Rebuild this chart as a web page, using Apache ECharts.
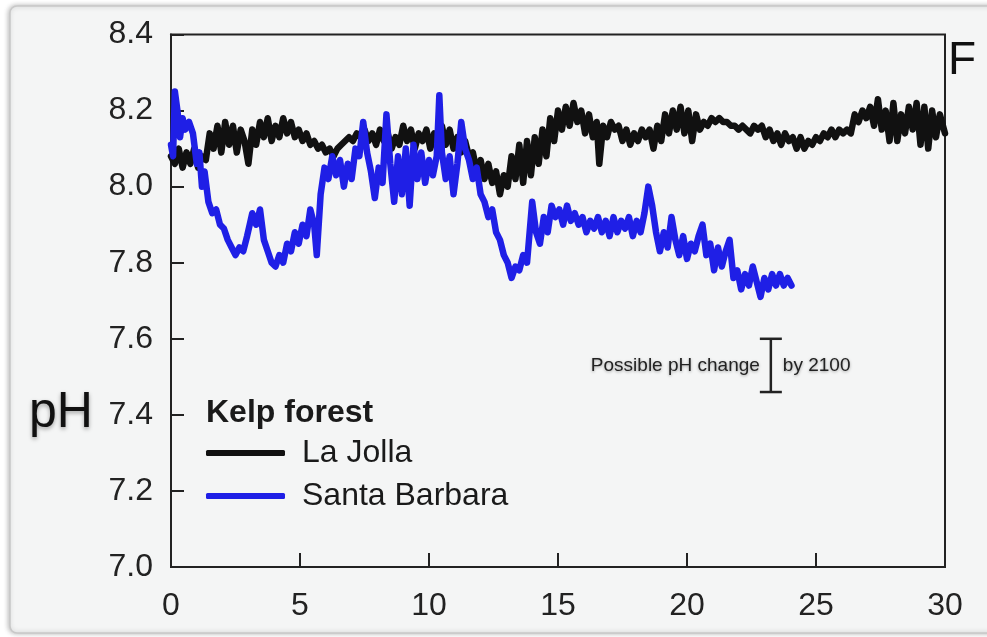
<!DOCTYPE html>
<html>
<head>
<meta charset="utf-8">
<script src="https://cdn.jsdelivr.net/npm/echarts@6/dist/echarts.min.js"></script>
<style>
html,body{margin:0;padding:0;background:#ffffff;}
#chart{width:987px;height:637px;}
</style>
</head>
<body>
<div id="chart"></div>
<script>
// ---- data ----
var xTicks = [0, 5, 10, 15, 20, 25, 30];
var yTicks = [7.0, 7.2, 7.4, 7.6, 7.8, 8.0, 8.2, 8.4];

var laJollaT = [0,0.15,0.3,0.45,0.6,0.75,0.9,1.05,1.2,1.35,1.5,1.65,1.8,1.95,2.1,2.25,2.4,2.55,2.7,2.85,3.0,3.15,3.3,3.45,3.6,3.75,3.9,4.05,4.2,4.35,4.5,4.65,4.8,4.95,5.1,5.25,5.4,5.55,5.7,5.85,6.0,6.15,6.3,6.45,6.6,6.75,6.9,7.05,7.2,7.35,7.5,7.65,7.8,7.95,8.1,8.25,8.4,8.55,8.7,8.85,9.0,9.15,9.3,9.45,9.6,9.75,9.9,10.05,10.2,10.35,10.5,10.65,10.8,10.95,11.1,11.25,11.4,11.55,11.7,11.85,12.0,12.15,12.3,12.45,12.6,12.75,12.9,13.05,13.2,13.35,13.5,13.65,13.8,13.95,14.1,14.25,14.4,14.55,14.7,14.85,15.0,15.15,15.3,15.45,15.6,15.75,15.9,16.05,16.2,16.35,16.5,16.6,16.75,16.9,17.05,17.2,17.35,17.5,17.65,17.8,17.95,18.1,18.25,18.4,18.55,18.7,18.85,19.0,19.15,19.3,19.45,19.6,19.75,19.9,20.05,20.2,20.35,20.5,20.65,20.8,20.95,21.1,21.25,21.4,21.55,21.7,21.85,22.0,22.15,22.3,22.45,22.6,22.75,22.9,23.05,23.2,23.35,23.5,23.65,23.8,23.95,24.1,24.25,24.4,24.55,24.7,24.85,25.0,25.15,25.3,25.45,25.6,25.75,25.9,26.05,26.2,26.35,26.5,26.65,26.8,26.95,27.1,27.25,27.4,27.55,27.7,27.85,28.0,28.15,28.3,28.45,28.6,28.75,28.9,29.05,29.2,29.35,29.5,29.65,29.8,30.0];
var laJollaPH = [8.08,8.06,8.10,8.05,8.09,8.06,8.10,8.05,8.08,8.07,8.14,8.10,8.16,8.09,8.17,8.11,8.16,8.09,8.15,8.12,8.06,8.15,8.11,8.17,8.13,8.18,8.12,8.16,8.13,8.18,8.14,8.17,8.13,8.15,8.12,8.14,8.11,8.12,8.10,8.11,8.09,8.10,8.08,8.10,8.11,8.12,8.13,8.12,8.14,8.13,8.15,8.12,8.14,8.11,8.15,8.12,8.14,8.10,8.13,8.11,8.16,8.12,8.15,8.10,8.14,8.12,8.15,8.10,8.14,8.12,8.16,8.11,8.15,8.10,8.13,8.09,8.12,8.08,8.09,8.04,8.07,8.02,8.06,8.01,8.04,7.98,8.03,8.00,8.08,8.02,8.11,8.01,8.12,8.03,8.13,8.06,8.15,8.08,8.18,8.12,8.20,8.15,8.21,8.16,8.22,8.17,8.20,8.14,8.19,8.13,8.17,8.06,8.16,8.13,8.17,8.15,8.16,8.12,8.15,8.11,8.14,8.12,8.15,8.13,8.15,8.10,8.16,8.12,8.19,8.14,8.20,8.15,8.21,8.14,8.20,8.12,8.19,8.15,8.17,8.16,8.18,8.17,8.18,8.17,8.17,8.16,8.16,8.15,8.16,8.15,8.14,8.16,8.15,8.16,8.13,8.15,8.12,8.14,8.11,8.14,8.12,8.13,8.10,8.13,8.10,8.12,8.11,8.13,8.12,8.14,8.13,8.15,8.13,8.15,8.14,8.15,8.14,8.19,8.17,8.20,8.18,8.21,8.16,8.23,8.15,8.20,8.12,8.22,8.12,8.19,8.14,8.21,8.15,8.22,8.11,8.21,8.10,8.20,8.13,8.19,8.14];

var santaBarbaraT = [0,0.08,0.15,0.25,0.35,0.45,0.55,0.7,0.85,1.0,1.1,1.2,1.3,1.45,1.6,1.75,1.9,2.05,2.2,2.35,2.5,2.65,2.8,2.95,3.05,3.15,3.3,3.45,3.6,3.75,3.9,4.05,4.2,4.35,4.5,4.65,4.8,4.95,5.1,5.25,5.4,5.55,5.65,5.8,5.95,6.1,6.25,6.4,6.55,6.7,6.85,7.0,7.15,7.3,7.45,7.6,7.75,7.9,8.05,8.2,8.35,8.5,8.65,8.8,8.95,9.1,9.25,9.4,9.55,9.7,9.85,10.0,10.15,10.3,10.4,10.5,10.65,10.8,10.95,11.1,11.25,11.4,11.55,11.7,11.85,12.0,12.15,12.3,12.45,12.6,12.75,12.9,13.05,13.2,13.35,13.5,13.65,13.8,14.0,14.15,14.3,14.45,14.6,14.75,14.9,15.05,15.2,15.35,15.5,15.65,15.8,15.95,16.1,16.25,16.4,16.55,16.7,16.85,17.0,17.15,17.3,17.45,17.6,17.75,17.9,18.05,18.2,18.35,18.5,18.65,18.8,18.95,19.1,19.25,19.4,19.55,19.7,19.85,20.0,20.15,20.3,20.45,20.6,20.75,20.9,21.05,21.2,21.35,21.5,21.65,21.8,21.95,22.1,22.25,22.4,22.55,22.7,22.85,23.0,23.15,23.3,23.45,23.6,23.75,23.9,24.05];
var santaBarbaraPH = [8.11,8.08,8.25,8.20,8.13,8.18,8.15,8.17,8.14,8.06,8.09,8.00,8.04,7.96,7.93,7.94,7.90,7.89,7.86,7.84,7.82,7.84,7.83,7.87,7.90,7.93,7.90,7.94,7.86,7.83,7.80,7.79,7.82,7.80,7.85,7.83,7.88,7.85,7.90,7.87,7.94,7.90,7.82,7.98,8.05,8.02,8.08,8.03,8.07,8.00,8.06,8.02,8.10,8.08,8.17,8.09,8.04,7.97,8.05,8.01,8.19,8.06,7.96,8.08,7.98,8.10,7.95,8.11,8.02,8.09,8.01,8.07,8.03,8.08,8.24,8.09,8.02,8.08,7.98,8.06,8.17,8.10,8.07,8.02,8.05,7.98,7.96,7.92,7.94,7.88,7.86,7.82,7.80,7.76,7.79,7.78,7.82,7.80,7.96,7.88,7.85,7.92,7.88,7.95,7.92,7.94,7.90,7.95,7.91,7.93,7.90,7.92,7.88,7.91,7.89,7.92,7.88,7.91,7.87,7.92,7.88,7.91,7.89,7.92,7.87,7.91,7.88,7.93,8.00,7.95,7.88,7.83,7.88,7.84,7.92,7.86,7.82,7.87,7.81,7.85,7.83,7.87,7.90,7.82,7.85,7.78,7.84,7.79,7.83,7.86,7.76,7.78,7.73,7.77,7.74,7.79,7.75,7.71,7.76,7.73,7.77,7.74,7.77,7.74,7.76,7.74];

// possible pH change by 2100 (I-beam): x position, top and bottom pH
var changeBarT = [23.25];
var changeBarTop = [7.60];
var changeBarBottom = [7.46];

var seriesNames = ['La Jolla', 'Santa Barbara'];
var legendTitle = 'Kelp forest';

function zip(a, b) { return a.map(function (v, i) { return [v, b[i]]; }); }

var chart = echarts.init(document.getElementById('chart'), null, { renderer: 'canvas' });
var FONT = '"Liberation Sans", Arial, Helvetica, sans-serif';

var option = {
  backgroundColor: '#ffffff',
  animation: false,
  textStyle: { fontFamily: FONT },
  graphic: [
    {
      type: 'rect', z: -10, silent: true,
      shape: { x: 10, y: 6, width: 990, height: 627, r: 7 },
      style: { fill: '#f4f5f5', stroke: '#c8c8c8', lineWidth: 1.5,
               shadowColor: 'rgba(0,0,0,0.25)', shadowBlur: 5, shadowOffsetX: -1, shadowOffsetY: 0 }
    },
    {
      type: 'text', left: 29, top: 388, z: 10, silent: true,
      style: { text: 'pH', font: '50px ' + FONT, fill: '#111',
               textShadowColor: 'rgba(0,0,0,0.35)', textShadowBlur: 4, textShadowOffsetY: 2 }
    },
    {
      type: 'text', left: 948, top: 38, z: 10, silent: true,
      style: { text: 'F', font: '46px ' + FONT, fill: '#111' }
    },
    {
      type: 'text', left: 206, top: 397, z: 10, silent: true,
      style: { text: legendTitle, font: 'bold 32px ' + FONT, fill: '#1a1a1a' }
    }
  ],
  grid: {
    left: 171, right: 42, top: 34.5, bottom: 70,
    show: true, borderColor: '#222', borderWidth: 2, backgroundColor: 'transparent',
    outerBoundsMode: 'none'
  },
  legend: {
    data: seriesNames,
    orient: 'vertical',
    left: 201, top: 431,
    itemWidth: 79, itemHeight: 6,
    itemGap: 9,
    icon: 'roundRect',
    selectedMode: false,
    textStyle: { fontSize: 32, color: '#1a1a1a', lineHeight: 34, padding: [0, 0, 0, 12], fontFamily: FONT }
  },
  xAxis: {
    type: 'value', min: 0, max: 30, interval: 5,
    axisLine: { show: true, lineStyle: { color: '#222', width: 2 } },
    axisTick: { show: true, inside: true, length: 14, lineStyle: { color: '#222', width: 2 } },
    axisLabel: { fontSize: 32, color: '#222', margin: 23, fontFamily: FONT,
                 formatter: function (v) { return xTicks.indexOf(v) >= 0 ? String(v) : ''; } },
    splitLine: { show: false }
  },
  yAxis: {
    type: 'value', min: 7.0, max: 8.4, interval: 0.2,
    axisLine: { show: true, lineStyle: { color: '#222', width: 2 } },
    axisTick: { show: true, inside: true, length: 13, lineStyle: { color: '#222', width: 2 } },
    axisLabel: { fontSize: 32, color: '#222', margin: 18, fontFamily: FONT,
                 formatter: function (v) { return v.toFixed(1); } },
    splitLine: { show: false }
  },
  series: [
    {
      name: seriesNames[0], type: 'line', data: zip(laJollaT, laJollaPH),
      showSymbol: false, symbol: 'none', smooth: false,
      lineStyle: { color: '#111111', width: 6.5, join: 'round', cap: 'round' },
      itemStyle: { color: '#111111' }, z: 3
    },
    {
      name: seriesNames[1], type: 'line', data: zip(santaBarbaraT, santaBarbaraPH),
      showSymbol: false, symbol: 'none', smooth: false,
      lineStyle: { color: '#1f1fe6', width: 6.5, join: 'round', cap: 'round' },
      itemStyle: { color: '#1f1fe6' }, z: 4
    },
    {
      type: 'custom', name: 'change', silent: true, z: 5,
      data: changeBarT.map(function (t, i) { return [t, changeBarTop[i], changeBarBottom[i]]; }),
      encode: { x: 0, y: [1, 2] },
      renderItem: function (params, api) {
        var top = api.coord([api.value(0), api.value(1)]);
        var bot = api.coord([api.value(0), api.value(2)]);
        var cx = top[0];
        var midY = (top[1] + bot[1]) / 2;
        var stroke = { stroke: '#222', lineWidth: 2.5 };
        var shadow = { textShadowColor: 'rgba(0,0,0,0.35)', textShadowBlur: 3, textShadowOffsetY: 1 };
        return {
          type: 'group',
          children: [
            { type: 'line', shape: { x1: cx, y1: top[1], x2: cx, y2: bot[1] }, style: stroke },
            { type: 'line', shape: { x1: cx - 11, y1: top[1], x2: cx + 11, y2: top[1] }, style: stroke },
            { type: 'line', shape: { x1: cx - 11, y1: bot[1], x2: cx + 11, y2: bot[1] }, style: stroke },
            { type: 'text', x: cx - 11, y: midY,
              style: Object.assign({ text: 'Possible pH change', font: '19px ' + FONT, fill: '#222',
                       align: 'right', verticalAlign: 'middle' }, shadow) },
            { type: 'text', x: cx + 12, y: midY,
              style: Object.assign({ text: 'by 2100', font: '19px ' + FONT, fill: '#222',
                       align: 'left', verticalAlign: 'middle' }, shadow) }
          ]
        };
      }
    }
  ]
};
chart.setOption(option);
</script>
</body>
</html>
